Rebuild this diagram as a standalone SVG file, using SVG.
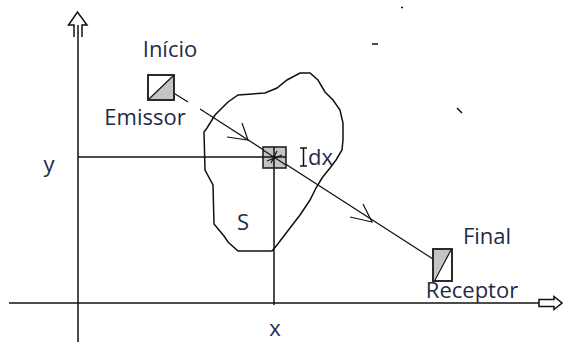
<svg xmlns="http://www.w3.org/2000/svg" width="563" height="342" viewBox="0 0 563 342">
<style>
.ln{stroke:#111;stroke-width:1.5;fill:none}
.thin{stroke:#111;stroke-width:1.2;fill:none}
.box{stroke:#222;stroke-width:1.6;fill:#fff}
.gray{fill:#c4c4c4;stroke:none}
.lbl{font-family:"Open Sans","Segoe UI","DejaVu Sans",sans-serif;font-size:22px;fill:#1f2a48}
</style>
<rect width="563" height="342" fill="#fff"/>
<g id="axes">
  <line class="ln" x1="78" y1="25" x2="78" y2="342"/>
  <path class="ln" d="M74,37 V25 H68.5 L77.5,12 L87,25 H82 V37"/>
  <line class="ln" x1="9" y1="303" x2="539" y2="303"/>
  <path class="ln" d="M539,299.5 H554 V296.5 L562,303 L554,309.5 V306.5 H539 Z"/>
  <text class="lbl" x="49" y="172" text-anchor="middle">y</text>
  <text class="lbl" x="275" y="336" text-anchor="middle">x</text>
</g>
<g id="region-S">
  <path class="ln" d="M300,73 L310,73 L318,80 L325,92 L333,100 L340,110 L343,123 L343,140 L342,150 L336,160 L330,168 L322,178 L316,188 L310,200 L300,215 L290,228 L277,245 L272,251 L238,251 L228,242 L224,236 L214,224 L213,185 L205,170 L204,132 L207,128 L215,115 L228,102 L238,95 L265,93 L277,88 L287,80 Z"/>
  <text class="lbl" x="243" y="230" text-anchor="middle">S</text>
</g>
<g id="connectors">
  <line class="thin" x1="172" y1="92" x2="188" y2="102"/>
  <line class="thin" x1="200" y1="109" x2="433" y2="259"/>
  <line class="ln" x1="78" y1="157" x2="274" y2="157"/>
  <line class="ln" x1="274" y1="157" x2="274" y2="305"/>
  <path class="thin" d="M242,123 L248,140 L227,137"/>
  <path class="thin" d="M363,204 L372,222 L350,217"/>
</g>
<g id="dx">
  <rect x="263" y="147" width="23" height="21" fill="#c4c4c4" stroke="#222" stroke-width="1.6"/>
  <line class="thin" x1="263" y1="150" x2="286" y2="165"/>
  <line class="ln" x1="274" y1="147" x2="274" y2="168"/>
  <line class="ln" x1="263" y1="157" x2="286" y2="157"/>
  <path class="thin" d="M277,151 L271,163 M267,161 L282,155"/>
  <path class="ln" d="M300,148 H307 M303.5,148 V166 M300,166 H307"/>
  <text class="lbl" x="308" y="165">dx</text>
</g>
<g id="emissor">
  <rect class="box" x="148" y="75" width="26" height="25"/>
  <polygon class="gray" points="149,99 173,76 173,99"/>
  <line class="thin" x1="149" y1="99" x2="173" y2="76"/>
  <rect x="148" y="75" width="26" height="25" fill="none" stroke="#222" stroke-width="1.6"/>
  <text class="lbl" x="170" y="57" text-anchor="middle">Início</text>
  <text class="lbl" x="145" y="125" text-anchor="middle">Emissor</text>
</g>
<g id="receptor">
  <rect class="box" x="433" y="249" width="19" height="32"/>
  <polygon class="gray" points="434,250 451,250 434,280"/>
  <line class="thin" x1="435" y1="280" x2="451" y2="250"/>
  <rect x="433" y="249" width="19" height="32" fill="none" stroke="#222" stroke-width="1.6"/>
  <text class="lbl" x="487" y="244" text-anchor="middle">Final</text>
  <text class="lbl" x="472" y="298" text-anchor="middle">Receptor</text>
</g>
<g id="marks">
  <line class="ln" x1="401" y1="7.5" x2="403" y2="7.5"/>
  <line class="ln" x1="372" y1="44" x2="378" y2="44"/>
  <line class="ln" x1="457" y1="108" x2="462" y2="113"/>
</g>
</svg>
